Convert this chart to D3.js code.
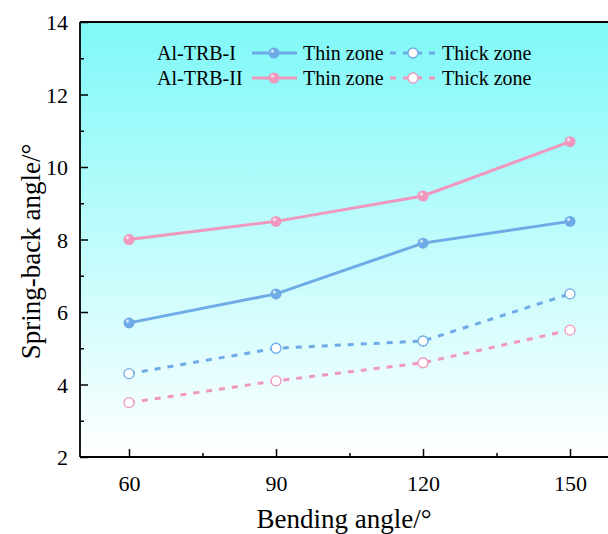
<!DOCTYPE html>
<html>
<head>
<meta charset="utf-8">
<script src="https://cdn.jsdelivr.net/npm/d3@7"></script>
<style>
  html, body { margin: 0; padding: 0; background: #fff; }
  svg { display: block; }
  svg text { font-family: "Liberation Serif", "Times New Roman", Tinos, Times, serif !important; fill: #000; }
</style>
</head>
<body>
<svg id="chart" width="608" height="534"></svg>
<script>
// Bending angle (°) on x, spring-back angle (°) on y
const bendingAngles = [60, 90, 120, 150];
const trb1Thin  = [5.7, 6.5, 7.9, 8.5];
const trb1Thick = [4.3, 5.0, 5.2, 6.5];
const trb2Thin  = [8.0, 8.5, 9.2, 10.7];
const trb2Thick = [3.5, 4.1, 4.6, 5.5];
const xTicks = [60, 90, 120, 150];
const yTicks = [2, 4, 6, 8, 10, 12, 14];

const blue = "#6eabe6";
const pink = "#ef97bd";
const serif = "'Liberation Serif', 'Times New Roman', Times, serif";

const series = [
  { name: "trb1Thin",  values: trb1Thin,  color: blue, dashed: false },
  { name: "trb2Thin",  values: trb2Thin,  color: pink, dashed: false },
  { name: "trb1Thick", values: trb1Thick, color: blue, dashed: true },
  { name: "trb2Thick", values: trb2Thick, color: pink, dashed: true }
];

const svg = d3.select("#chart").attr("font-family", serif);
const margin = { left: 80, top: 22, right: 619, bottom: 457 };

const x = d3.scaleLinear().domain([50, 160]).range([margin.left, margin.right]);
const y = d3.scaleLinear().domain([2, 14]).range([margin.bottom, margin.top]);

const defs = svg.append("defs");
const bg = defs.append("linearGradient").attr("id", "bg").attr("x1", 0).attr("y1", 0).attr("x2", 0).attr("y2", 1);
bg.append("stop").attr("offset", "0%").attr("stop-color", "#7ff8f8");
bg.append("stop").attr("offset", "100%").attr("stop-color", "#ffffff");

function ball(id, color) {
  const g = defs.append("radialGradient").attr("id", id)
    .attr("cx", "40%").attr("cy", "38%").attr("r", "60%").attr("fx", "35%").attr("fy", "32%");
  g.append("stop").attr("offset", "0%").attr("stop-color", "#ffffff").attr("stop-opacity", 0.9);
  g.append("stop").attr("offset", "35%").attr("stop-color", color);
  g.append("stop").attr("offset", "100%").attr("stop-color", color);
}
ball("ballBlue", blue);
ball("ballPink", pink);
const ballFill = c => c === blue ? "url(#ballBlue)" : "url(#ballPink)";

// plot background
svg.append("rect")
  .attr("x", margin.left).attr("y", margin.top)
  .attr("width", margin.right - margin.left).attr("height", margin.bottom - margin.top)
  .attr("fill", "url(#bg)");

// lines
const line = d3.line().x((d, i) => x(bendingAngles[i])).y(d => y(d));
series.forEach(s => {
  svg.append("path")
    .datum(s.values)
    .attr("d", line)
    .attr("fill", "none")
    .attr("stroke", s.color)
    .attr("stroke-width", 3)
    .attr("stroke-dasharray", s.dashed ? "6,7" : null);
});

// markers
series.forEach(s => {
  svg.selectAll(null)
    .data(s.values)
    .enter().append("circle")
    .attr("cx", (d, i) => x(bendingAngles[i]))
    .attr("cy", d => y(d))
    .attr("r", s.dashed ? 5 : 5.5)
    .attr("fill", s.dashed ? "#ffffff" : ballFill(s.color))
    .attr("stroke", s.dashed ? s.color : "none")
    .attr("stroke-width", 1.3);
});

// axes with inward ticks
const xAxis = svg.append("g").attr("transform", `translate(0,${margin.bottom})`)
  .call(d3.axisBottom(x).tickValues(xTicks).tickSize(-8).tickPadding(18).tickFormat(d3.format("d")));
svg.append("g").attr("transform", `translate(0,${margin.bottom})`)
  .call(d3.axisBottom(x).tickValues([75, 105, 135]).tickSize(-4).tickFormat(""))
  .call(g => g.select(".domain").remove());
const yAxis = svg.append("g").attr("transform", `translate(${margin.left},0)`)
  .call(d3.axisLeft(y).tickValues(yTicks).tickSize(-8).tickPadding(12).tickFormat(d3.format("d")));
svg.append("g").attr("transform", `translate(${margin.left},0)`)
  .call(d3.axisLeft(y).tickValues([3, 5, 7, 9, 11, 13]).tickSize(-4).tickFormat(""))
  .call(g => g.select(".domain").remove());

svg.selectAll("g").attr("font-family", serif);
svg.selectAll(".tick text").attr("font-size", 22).attr("font-family", serif);
svg.selectAll(".tick line").attr("stroke", "#000").attr("stroke-width", 1.5);
svg.selectAll(".domain").attr("stroke", "#000").attr("stroke-width", 1.8);
yAxis.selectAll(".tick text").attr("dy", "0.36em");
yAxis.selectAll(".domain").attr("d", `M0,${margin.bottom}V${margin.top}`);
xAxis.selectAll(".domain").attr("d", `M${margin.left},0H${margin.right}`);

// top and right frame edges
svg.append("line")
  .attr("x1", margin.left).attr("x2", margin.right)
  .attr("y1", margin.top).attr("y2", margin.top)
  .attr("stroke", "#000").attr("stroke-width", 1.8);
svg.append("line")
  .attr("x1", margin.right).attr("x2", margin.right)
  .attr("y1", margin.top).attr("y2", margin.bottom)
  .attr("stroke", "#000").attr("stroke-width", 1.8);

// axis titles
svg.append("text")
  .attr("x", 344).attr("y", 528)
  .attr("text-anchor", "middle").attr("font-size", 27).attr("font-family", serif)
  .text("Bending angle/°");
svg.append("text")
  .attr("transform", `translate(40,${(margin.top + margin.bottom) / 2 + 12}) rotate(-90)`)
  .attr("text-anchor", "middle").attr("font-size", 27).attr("font-family", serif)
  .text("Spring-back angle/°");

// legend
const legendRows = [
  { label: "Al-TRB-I",  color: blue, y: 53 },
  { label: "Al-TRB-II", color: pink, y: 78 }
];
const lg = svg.append("g").attr("font-family", serif).attr("font-size", 20);
legendRows.forEach(r => {
  lg.append("text").attr("x", 157).attr("y", r.y).attr("dy", "0.35em").text(r.label);
  lg.append("line").attr("x1", 252).attr("x2", 297).attr("y1", r.y).attr("y2", r.y)
    .attr("stroke", r.color).attr("stroke-width", 3);
  lg.append("circle").attr("cx", 274).attr("cy", r.y).attr("r", 5.5).attr("fill", ballFill(r.color));
  lg.append("text").attr("x", 303).attr("y", r.y).attr("dy", "0.35em").text("Thin zone");
  lg.append("line").attr("x1", 390).attr("x2", 436).attr("y1", r.y).attr("y2", r.y)
    .attr("stroke", r.color).attr("stroke-width", 3).attr("stroke-dasharray", "6,7");
  lg.append("circle").attr("cx", 413).attr("cy", r.y).attr("r", 5)
    .attr("fill", "#fff").attr("stroke", r.color).attr("stroke-width", 1.3);
  lg.append("text").attr("x", 442).attr("y", r.y).attr("dy", "0.35em").text("Thick zone");
});
</script>
</body>
</html>
